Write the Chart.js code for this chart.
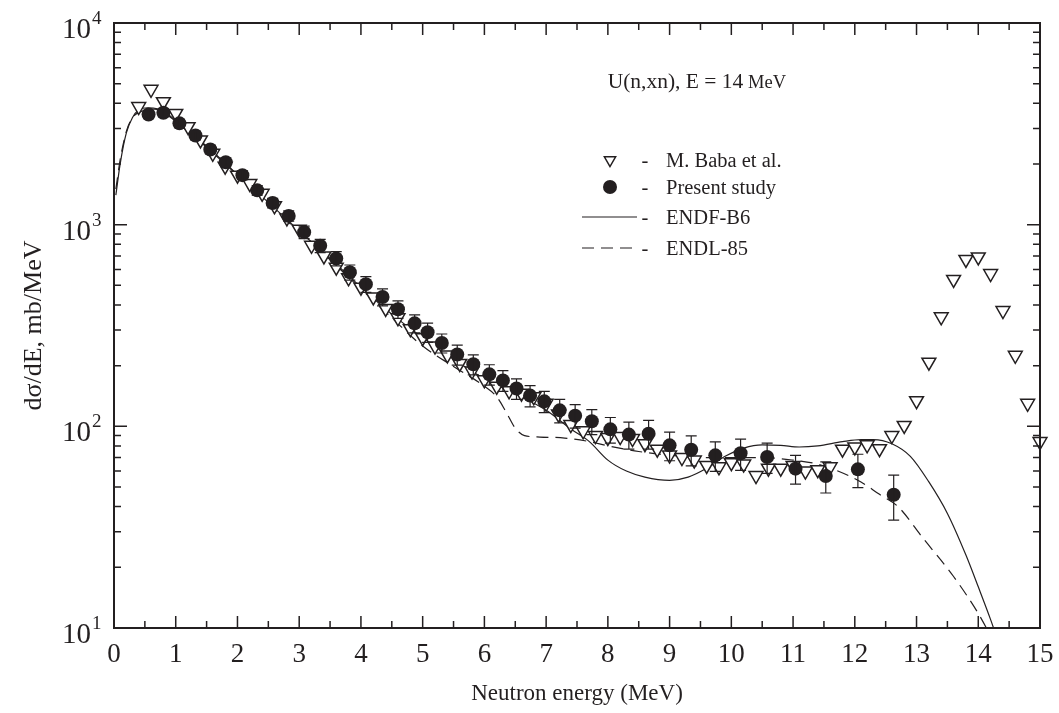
<!DOCTYPE html>
<html>
<head>
<meta charset="utf-8">
<script src="https://cdn.jsdelivr.net/npm/chart.js@4.4.0/dist/chart.umd.min.js"></script>
<style>
  html, body { margin: 0; padding: 0; background: #fff; }
  canvas { display: block; }
</style>
</head>
<body>
<canvas id="spectrum" width="1059" height="713"></canvas>
<script>
const INK = '#231f20';
const SERIF = '"Liberation Serif", "Times New Roman", serif';

// M. Baba et al. (open triangles), MeV / mb/MeV
const babaEnergy = [0.4, 0.6, 0.8, 1.0, 1.2, 1.4, 1.6, 1.8, 2.0, 2.2, 2.4, 2.6, 2.8, 3.0, 3.2, 3.4, 3.6, 3.8,
  4.0, 4.2, 4.4, 4.6, 4.8, 5.0, 5.2, 5.4, 5.6, 5.8, 6.0, 6.2, 6.4, 6.6, 6.8, 7.0, 7.2, 7.4, 7.6, 7.8,
  8.0, 8.2, 8.4, 8.6, 8.8, 9.0, 9.2, 9.4, 9.6, 9.8, 10.0, 10.2, 10.4, 10.6, 10.8, 11.0, 11.2, 11.4,
  11.6, 11.8, 12.0, 12.2, 12.4, 12.6, 12.8, 13.0, 13.2, 13.4, 13.6, 13.8, 14.0, 14.2, 14.4, 14.6, 14.8, 15.0];
const babaValues = [3850, 4690, 4070, 3560, 3060, 2630, 2260, 1950, 1760, 1600, 1430, 1240, 1080, 950, 790, 700, 615, 545,
  490, 438, 384, 345, 305, 275, 250, 226, 205, 188, 170, 158, 150, 146, 140, 130, 115, 102, 95, 90,
  88, 89, 87, 82, 77, 72, 70, 68, 64, 63, 66, 65, 57, 62, 62, 64, 60, 61,
  63, 77, 79, 81, 77.5, 90, 101, 134, 208, 349, 535, 672, 692, 572, 375, 225, 130, 84];

// present study (filled circles with error bars)
const studyEnergy = [0.56, 0.80, 1.06, 1.32, 1.56, 1.81, 2.08, 2.32, 2.57, 2.83, 3.08, 3.34, 3.60, 3.82,
  4.08, 4.35, 4.60, 4.87, 5.08, 5.31, 5.56, 5.82, 6.08, 6.30, 6.52, 6.74, 6.97, 7.22, 7.47, 7.74,
  8.04, 8.34, 8.66, 9.00, 9.35, 9.74, 10.15, 10.58, 11.04, 11.53, 12.05, 12.63];
const studyValues = [3520, 3590, 3180, 2770, 2360, 2040, 1760, 1480, 1280, 1105, 918, 786, 680, 581,
  507, 438, 381, 324, 293, 259, 227, 203, 181, 169, 154, 142, 133, 120, 113, 106,
  96.6, 91, 92, 80.5, 76.6, 71.8, 73.5, 70.5, 61.7, 56.7, 61.2, 45.8];
const studyErrors = [150, 160, 150, 130, 110, 100, 90, 80, 70, 65, 65, 60, 55, 50,
  45, 42, 38, 33, 32, 28, 26, 23, 21, 20, 18, 17, 16, 16, 15, 15,
  14, 14, 15, 13, 13, 12, 13, 12, 10, 10, 11.5, 11.5];

// ENDF-B6 evaluation (solid)
const endfEnergy = [0.03, 0.1, 0.2, 0.3, 0.4, 0.55, 0.7, 1.0, 1.5, 2.0, 2.5, 3.0, 3.5, 4.0, 4.5, 5.0, 5.5, 6.0,
  6.5, 7.0, 7.4, 7.7, 8.0, 8.3, 8.6, 9.0, 9.3, 9.6, 9.9, 10.2, 10.5, 10.8, 11.1, 11.4, 11.8, 12.1,
  12.3, 12.6, 12.9, 13.2, 13.5, 13.8, 14.0, 14.2, 14.4];
const endfValues = [1400, 2000, 2850, 3400, 3700, 3800, 3750, 3250, 2420, 1760, 1290, 930, 680, 490, 360, 275, 215, 172,
  145, 120, 97, 84, 68, 60, 56, 54, 56, 62, 71, 78, 81, 80.5, 79, 80, 84, 86,
  86, 82, 71, 53, 37, 23, 16, 11, 7.3];

// ENDL-85 evaluation (dashed)
const endlEnergy = [0.03, 0.1, 0.2, 0.3, 0.45, 0.6, 0.8, 1.0, 1.5, 2.0, 2.5, 3.0, 3.5, 4.0, 4.5, 5.0, 5.5, 6.0,
  6.2, 6.35, 6.5, 6.65, 6.9, 7.3, 7.7, 8.0, 8.5, 9.0, 9.5, 10.0, 10.5, 11.0, 11.4, 11.7, 12.1, 12.4,
  12.7, 13.1, 13.6, 14.0, 14.3];
const endlValues = [1500, 2100, 2900, 3400, 3650, 3750, 3650, 3280, 2450, 1770, 1270, 920, 670, 480, 345, 250, 198, 158,
  140, 118, 98, 90, 88.5, 87.5, 84, 80, 75, 72, 70, 70, 70, 68, 65, 60.5, 53, 46,
  40, 28, 18, 11.8, 8];

const xTicks = [0, 1, 2, 3, 4, 5, 6, 7, 8, 9, 10, 11, 12, 13, 14, 15];
const yDecades = [1, 2, 3, 4];

const toPoints = (xs, ys) => xs.map((x, i) => ({ x: x, y: ys[i] }));

// ============================================
// error bars on the present-study points
// ============================================
const errorBars = {
    id: 'errorBars',
    afterDatasetsDraw(chart) {
        const { ctx, scales: { x, y } } = chart;
        ctx.save();
        ctx.strokeStyle = INK;
        ctx.lineWidth = 1.2;
        studyEnergy.forEach((e, i) => {
            const px = x.getPixelForValue(e);
            const top = y.getPixelForValue(studyValues[i] + studyErrors[i]);
            const bot = y.getPixelForValue(studyValues[i] - studyErrors[i]);
            ctx.beginPath();
            ctx.moveTo(px, top); ctx.lineTo(px, bot);
            ctx.moveTo(px - 5.5, top); ctx.lineTo(px + 5.5, top);
            ctx.moveTo(px - 5.5, bot); ctx.lineTo(px + 5.5, bot);
            ctx.stroke();
        });
        ctx.restore();
    }
};

// ============================================
// frame, inward ticks, labels, legend
// ============================================
const frame = {
    id: 'frame',
    afterDraw(chart) {
        const { ctx, chartArea: a, scales: { x, y } } = chart;
        ctx.save();
        ctx.strokeStyle = INK;
        ctx.fillStyle = INK;

        // ticks on all four sides
        ctx.lineWidth = 1.5;
        ctx.beginPath();
        for (let v = 0; v <= 15; v += 0.5) {
            const px = x.getPixelForValue(v);
            const len = Number.isInteger(v) ? 12 : 7;
            ctx.moveTo(px, a.bottom); ctx.lineTo(px, a.bottom - len);
            ctx.moveTo(px, a.top); ctx.lineTo(px, a.top + len);
        }
        for (let d = 1; d < 4; d++) {
            for (let m = 1; m <= 9; m++) {
                const py = y.getPixelForValue(m * Math.pow(10, d));
                const len = m === 1 ? 13 : 7;
                ctx.moveTo(a.left, py); ctx.lineTo(a.left + len, py);
                ctx.moveTo(a.right, py); ctx.lineTo(a.right - len, py);
            }
        }
        ctx.stroke();

        ctx.lineWidth = 2;
        ctx.strokeRect(a.left, a.top, a.right - a.left, a.bottom - a.top);

        // x tick labels
        ctx.font = '27px ' + SERIF;
        ctx.textAlign = 'center';
        ctx.textBaseline = 'alphabetic';
        xTicks.forEach(v => ctx.fillText(String(v), x.getPixelForValue(v), a.bottom + 34));

        // y tick labels as 10 with a raised exponent
        yDecades.forEach(d => {
            const py = y.getPixelForValue(Math.pow(10, d));
            ctx.font = '29px ' + SERIF;
            ctx.textAlign = 'right';
            ctx.fillText('10', a.left - 23, py + 15);
            ctx.font = '19px ' + SERIF;
            ctx.textAlign = 'left';
            ctx.fillText(String(d), a.left - 22, py + 1);
        });

        // axis titles
        ctx.font = '23px ' + SERIF;
        ctx.textAlign = 'center';
        ctx.fillText('Neutron energy (MeV)', (a.left + a.right) / 2, 700);
        ctx.save();
        ctx.font = '26px ' + SERIF;
        ctx.translate(41, (a.top + a.bottom) / 2);
        ctx.rotate(-Math.PI / 2);
        ctx.fillText('d\u03c3/dE, mb/MeV', 0, 0);
        ctx.restore();

        // reaction label
        ctx.textAlign = 'left';
        ctx.font = '18.5px ' + SERIF;
        const unitW = ctx.measureText(' MeV').width;
        ctx.font = '21.5px ' + SERIF;
        const head = 'U(n,xn), E = 14';
        const headW = ctx.measureText(head).width;
        const x0 = 786 - unitW - headW;
        ctx.fillText(head, x0, 88);
        ctx.font = '18.5px ' + SERIF;
        ctx.fillText(' MeV', x0 + headW, 88);

        // legend
        const rows = [
            { label: 'M. Baba et al.', y: 160, kind: 'triangle' },
            { label: 'Present study', y: 187, kind: 'circle' },
            { label: 'ENDF-B6', y: 217, kind: 'solid' },
            { label: 'ENDL-85', y: 248, kind: 'dashed' }
        ];
        ctx.font = '20.5px ' + SERIF;
        rows.forEach(r => {
            if (r.kind === 'triangle') {
                ctx.fillStyle = '#fff';
                ctx.lineWidth = 1.5;
                Chart.helpers.drawPoint(ctx, { pointStyle: 'triangle', rotation: 180, radius: 6.5, borderWidth: 1.5 }, 610, r.y);
            } else if (r.kind === 'circle') {
                ctx.beginPath();
                ctx.arc(610, r.y, 7, 0, Math.PI * 2);
                ctx.fillStyle = INK;
                ctx.fill();
            } else {
                ctx.lineWidth = 1.2;
                ctx.setLineDash(r.kind === 'dashed' ? [12, 7] : []);
                ctx.beginPath();
                ctx.moveTo(582, r.y); ctx.lineTo(637, r.y);
                ctx.stroke();
                ctx.setLineDash([]);
            }
            ctx.fillStyle = INK;
            ctx.textAlign = 'center';
            ctx.fillText('-', 645, r.y + 7);
            ctx.textAlign = 'left';
            ctx.fillText(r.label, 666, r.y + 7);
        });
        ctx.restore();
    }
};

const chart = new Chart(document.getElementById('spectrum'), {
    type: 'scatter',
    data: {
        datasets: [
            {
                label: 'Present study',
                data: toPoints(studyEnergy, studyValues),
                pointStyle: 'circle',
                pointRadius: 7,
                backgroundColor: INK,
                borderColor: INK,
                borderWidth: 0,
                order: 1,
                clip: false
            },
            {
                label: 'M. Baba et al.',
                data: toPoints(babaEnergy, babaValues),
                pointStyle: 'triangle',
                rotation: 180,
                pointRadius: 8,
                backgroundColor: '#fff',
                borderColor: INK,
                borderWidth: 1.5,
                order: 2,
                clip: false
            },
            {
                label: 'ENDF-B6',
                data: toPoints(endfEnergy, endfValues),
                showLine: true,
                pointRadius: 0,
                borderColor: INK,
                borderWidth: 1.2,
                cubicInterpolationMode: 'monotone',
                order: 3,
                clip: 0
            },
            {
                label: 'ENDL-85',
                data: toPoints(endlEnergy, endlValues),
                showLine: true,
                pointRadius: 0,
                borderColor: INK,
                borderWidth: 1.2,
                borderDash: [12, 7],
                cubicInterpolationMode: 'monotone',
                order: 4,
                clip: 0
            }
        ]
    },
    options: {
        responsive: false,
        animation: false,
        layout: { padding: { left: 114, top: 23, right: 19, bottom: 85 } },
        plugins: {
            legend: { display: false },
            tooltip: { enabled: false }
        },
        scales: {
            x: { type: 'linear', min: 0, max: 15, display: false },
            y: { type: 'logarithmic', min: 10, max: 10000, display: false }
        }
    },
    plugins: [errorBars, frame]
});
</script>
</body>
</html>
